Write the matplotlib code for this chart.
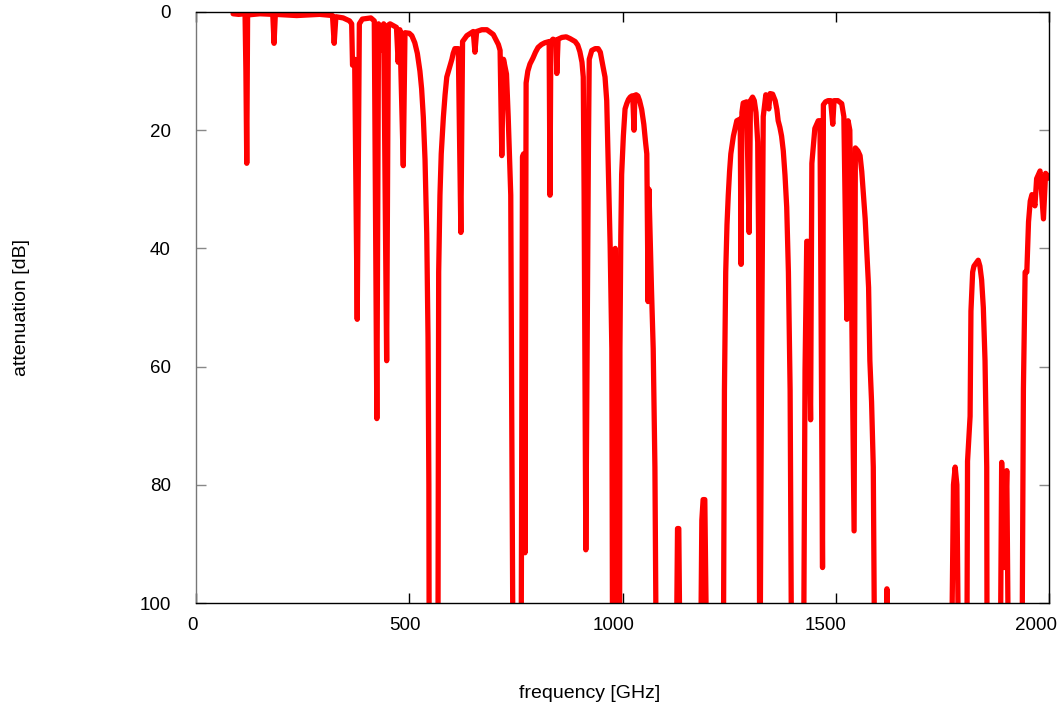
import numpy as np
import matplotlib
matplotlib.use("Agg")
import matplotlib.pyplot as plt
import matplotlib.transforms as mtransforms

# frequency [GHz] and attenuation [dB]
# (values of 120 are below the bottom of the axis and get clipped)
freq = [87, 100, 115, 117, 119, 121, 150, 180, 183, 186, 236, 290, 320, 324, 328,
        345, 360, 365, 367, 372, 378, 383, 390, 410, 418, 424, 428, 435, 440, 447,
        451, 455, 470, 474, 478, 486, 490, 500, 506, 513, 519, 525, 529, 533, 537,
        541, 544, 546, 547,
        567, 569, 572, 575, 580, 584, 588, 594, 600, 603, 607, 615, 621, 625, 635,
        650, 654, 658, 670, 682, 697, 709, 713, 717, 721, 728, 732, 738, 740, 744,
        762, 765.5, 768, 771.4, 774, 778, 783, 790, 796, 802, 810, 818, 828, 830, 832,
        837, 844, 846, 849, 858, 868, 877, 889, 895, 900, 905, 908, 910, 914, 920,
        922, 928, 936, 943, 948, 951, 955, 959, 963, 967, 971, 975, 977, 980, 983, 985,
        993, 994, 996, 998, 1002, 1006, 1010, 1014, 1018, 1022, 1024, 1027, 1029,
        1032, 1036, 1040, 1045, 1050, 1054, 1057, 1060, 1062, 1063, 1068, 1072,
        1076, 1080,
        1125, 1129, 1132, 1136,
        1182, 1186, 1189, 1193, 1199,
        1236, 1239, 1242, 1245, 1248, 1251, 1254, 1260, 1268, 1276, 1278, 1280, 1283,
        1291, 1297, 1300, 1305, 1309, 1313, 1317, 1319, 1322, 1326, 1330, 1336, 1343,
        1346, 1352, 1358, 1362, 1365, 1369, 1373, 1377, 1381, 1385, 1389, 1393, 1397,
        1424, 1428, 1432, 1435, 1441, 1444, 1451, 1459, 1463, 1469, 1471, 1476, 1482,
        1488, 1493, 1496, 1505, 1514, 1519, 1526, 1529, 1533, 1543, 1546, 1552, 1557,
        1561, 1565, 1569, 1573, 1577, 1580, 1584, 1588, 1592,
        1618, 1620, 1623,
        1770, 1776, 1780, 1784, 1789,
        1807, 1809, 1815, 1817, 1821, 1824, 1827, 1831, 1834, 1838, 1842, 1846, 1850,
        1854, 1855,
        1885, 1889, 1895, 1901, 1906,
        1936, 1940, 1944, 1948, 1952, 1956, 1960, 1967, 1971, 1979, 1987, 1992, 2002]

att = [0.3, 0.4, 0.3, 10, 25.6, 0.5, 0.3, 0.4, 5.3, 0.4, 0.6, 0.4, 0.6, 5.3, 0.8,
       1.0, 1.5, 2.0, 9.0, 8.0, 52, 2.0, 1.2, 1.0, 1.5, 68.8, 2.0, 6.5, 2.0, 59,
       2.2, 2.0, 2.6, 8.5, 3.0, 26, 3.5, 3.6, 4.0, 5.2, 7.0, 10, 13, 17.8, 25,
       37.5, 55, 80, 120,
       120, 44, 31, 24, 17.8, 14, 11, 9.5, 8, 7, 6.2, 6.2, 37.3, 5, 4,
       3.3, 6.8, 3.3, 3.0, 3.0, 3.8, 5.5, 6.5, 24.3, 8, 10.5, 17.7, 31, 64, 120,
       120, 24.5, 24, 91.5, 12, 10, 8.8, 7.8, 6.8, 6, 5.5, 5.2, 5, 31, 5,
       4.6, 4.8, 10.4, 4.6, 4.3, 4.2, 4.5, 5, 5.6, 6.7, 8.5, 11, 31, 91, 24,
       8, 6.5, 6.2, 6.2, 6.8, 8, 9.5, 11, 15, 27.5, 39.4, 57, 120, 120, 40, 120,
       120, 57, 38, 27.5, 21, 16.4, 15.5, 14.8, 14.4, 14.2, 14.2, 20, 14.1,
       14, 14.2, 15, 16.5, 19, 22, 24, 49, 30, 32.8, 47, 57,
       77, 120,
       120, 87.4, 87.4, 120,
       120, 86, 82.5, 82.5, 120,
       120, 64, 44, 36, 31, 27, 24, 21, 18.4, 18.1, 42.7, 17, 15.4,
       15.2, 37.3, 15, 14.4, 15, 17, 22, 37.5, 120, 60, 17.7, 14, 16.4,
       13.8, 13.9, 15, 16.5, 18.4, 19.5, 21, 23.5, 27.6, 33, 44, 64, 120,
       120, 60.5, 38.8, 38.8, 69, 25.6, 19.7, 18.4, 18.4, 94, 15.7, 15.2, 15,
       15, 19, 15, 15, 15.5, 17.7, 52, 18.4, 20, 87.8, 23, 23.5, 24.3,
       27, 30.9, 35, 40.7, 46.6, 59, 66, 77, 120,
       120, 97.6, 120,
       120, 80, 77, 80, 120,
       120, 76, 68.4, 50.6, 44, 43, 42.7, 42.3, 42, 43, 45.3, 50, 59,
       77, 120,
       120, 76.2, 94, 77.6, 120,
       120, 63.8, 44, 44, 35.5, 32, 30.9, 32.8, 28.2, 26.9, 35, 27.3, 28.2]

xticks = [0, 500, 1000, 1500, 2000]
yticks = [0, 20, 40, 60, 80, 100]

plt.rcParams['font.family'] = ['Liberation Sans', 'DejaVu Sans']
plt.rcParams['font.size'] = 14

fig = plt.figure(figsize=(10.6, 7.06), dpi=100)
ax = fig.add_axes([196/1060, 1 - 603/706, 853/1060, 591/706])

ax.plot(freq, att, color="#ff0000", linewidth=3.8,
        solid_capstyle="round", solid_joinstyle="round")

ax.set_xlim(0, 2000)
ax.set_ylim(100, 0)
ax.set_xticks(xticks)
ax.set_yticks(yticks)

ax.tick_params(axis="x", direction="in", length=7, width=1, top=True,
               pad=10, colors="black", labelsize=13.5)
ax.tick_params(axis="y", direction="in", length=7, width=1, right=True,
               pad=18, color="#888888", labelcolor="black", labelsize=13.5)

# gnuplot puts the x tick labels a bit left of the tick, more for wider ones
fig.canvas.draw()
for lab, dx in zip(ax.get_xticklabels(), [-3, -4, -9, -10, -13]):
    shift = mtransforms.ScaledTranslation(dx/100, 0, fig.dpi_scale_trans)
    lab.set_transform(lab.get_transform() + shift)

for side in ["top", "bottom", "right"]:
    ax.spines[side].set_color("black")
    ax.spines[side].set_linewidth(1)
ax.spines["left"].set_color("#777777")
ax.spines["left"].set_linewidth(1)

fig.text(590/1060, 1 - 693/706, "frequency [GHz]", ha="center", va="center")
fig.text(22/1060, 1 - 307/706, "attenuation [dB]", ha="center", va="center",
         rotation=90)

fig.savefig("out.png", dpi=100)
